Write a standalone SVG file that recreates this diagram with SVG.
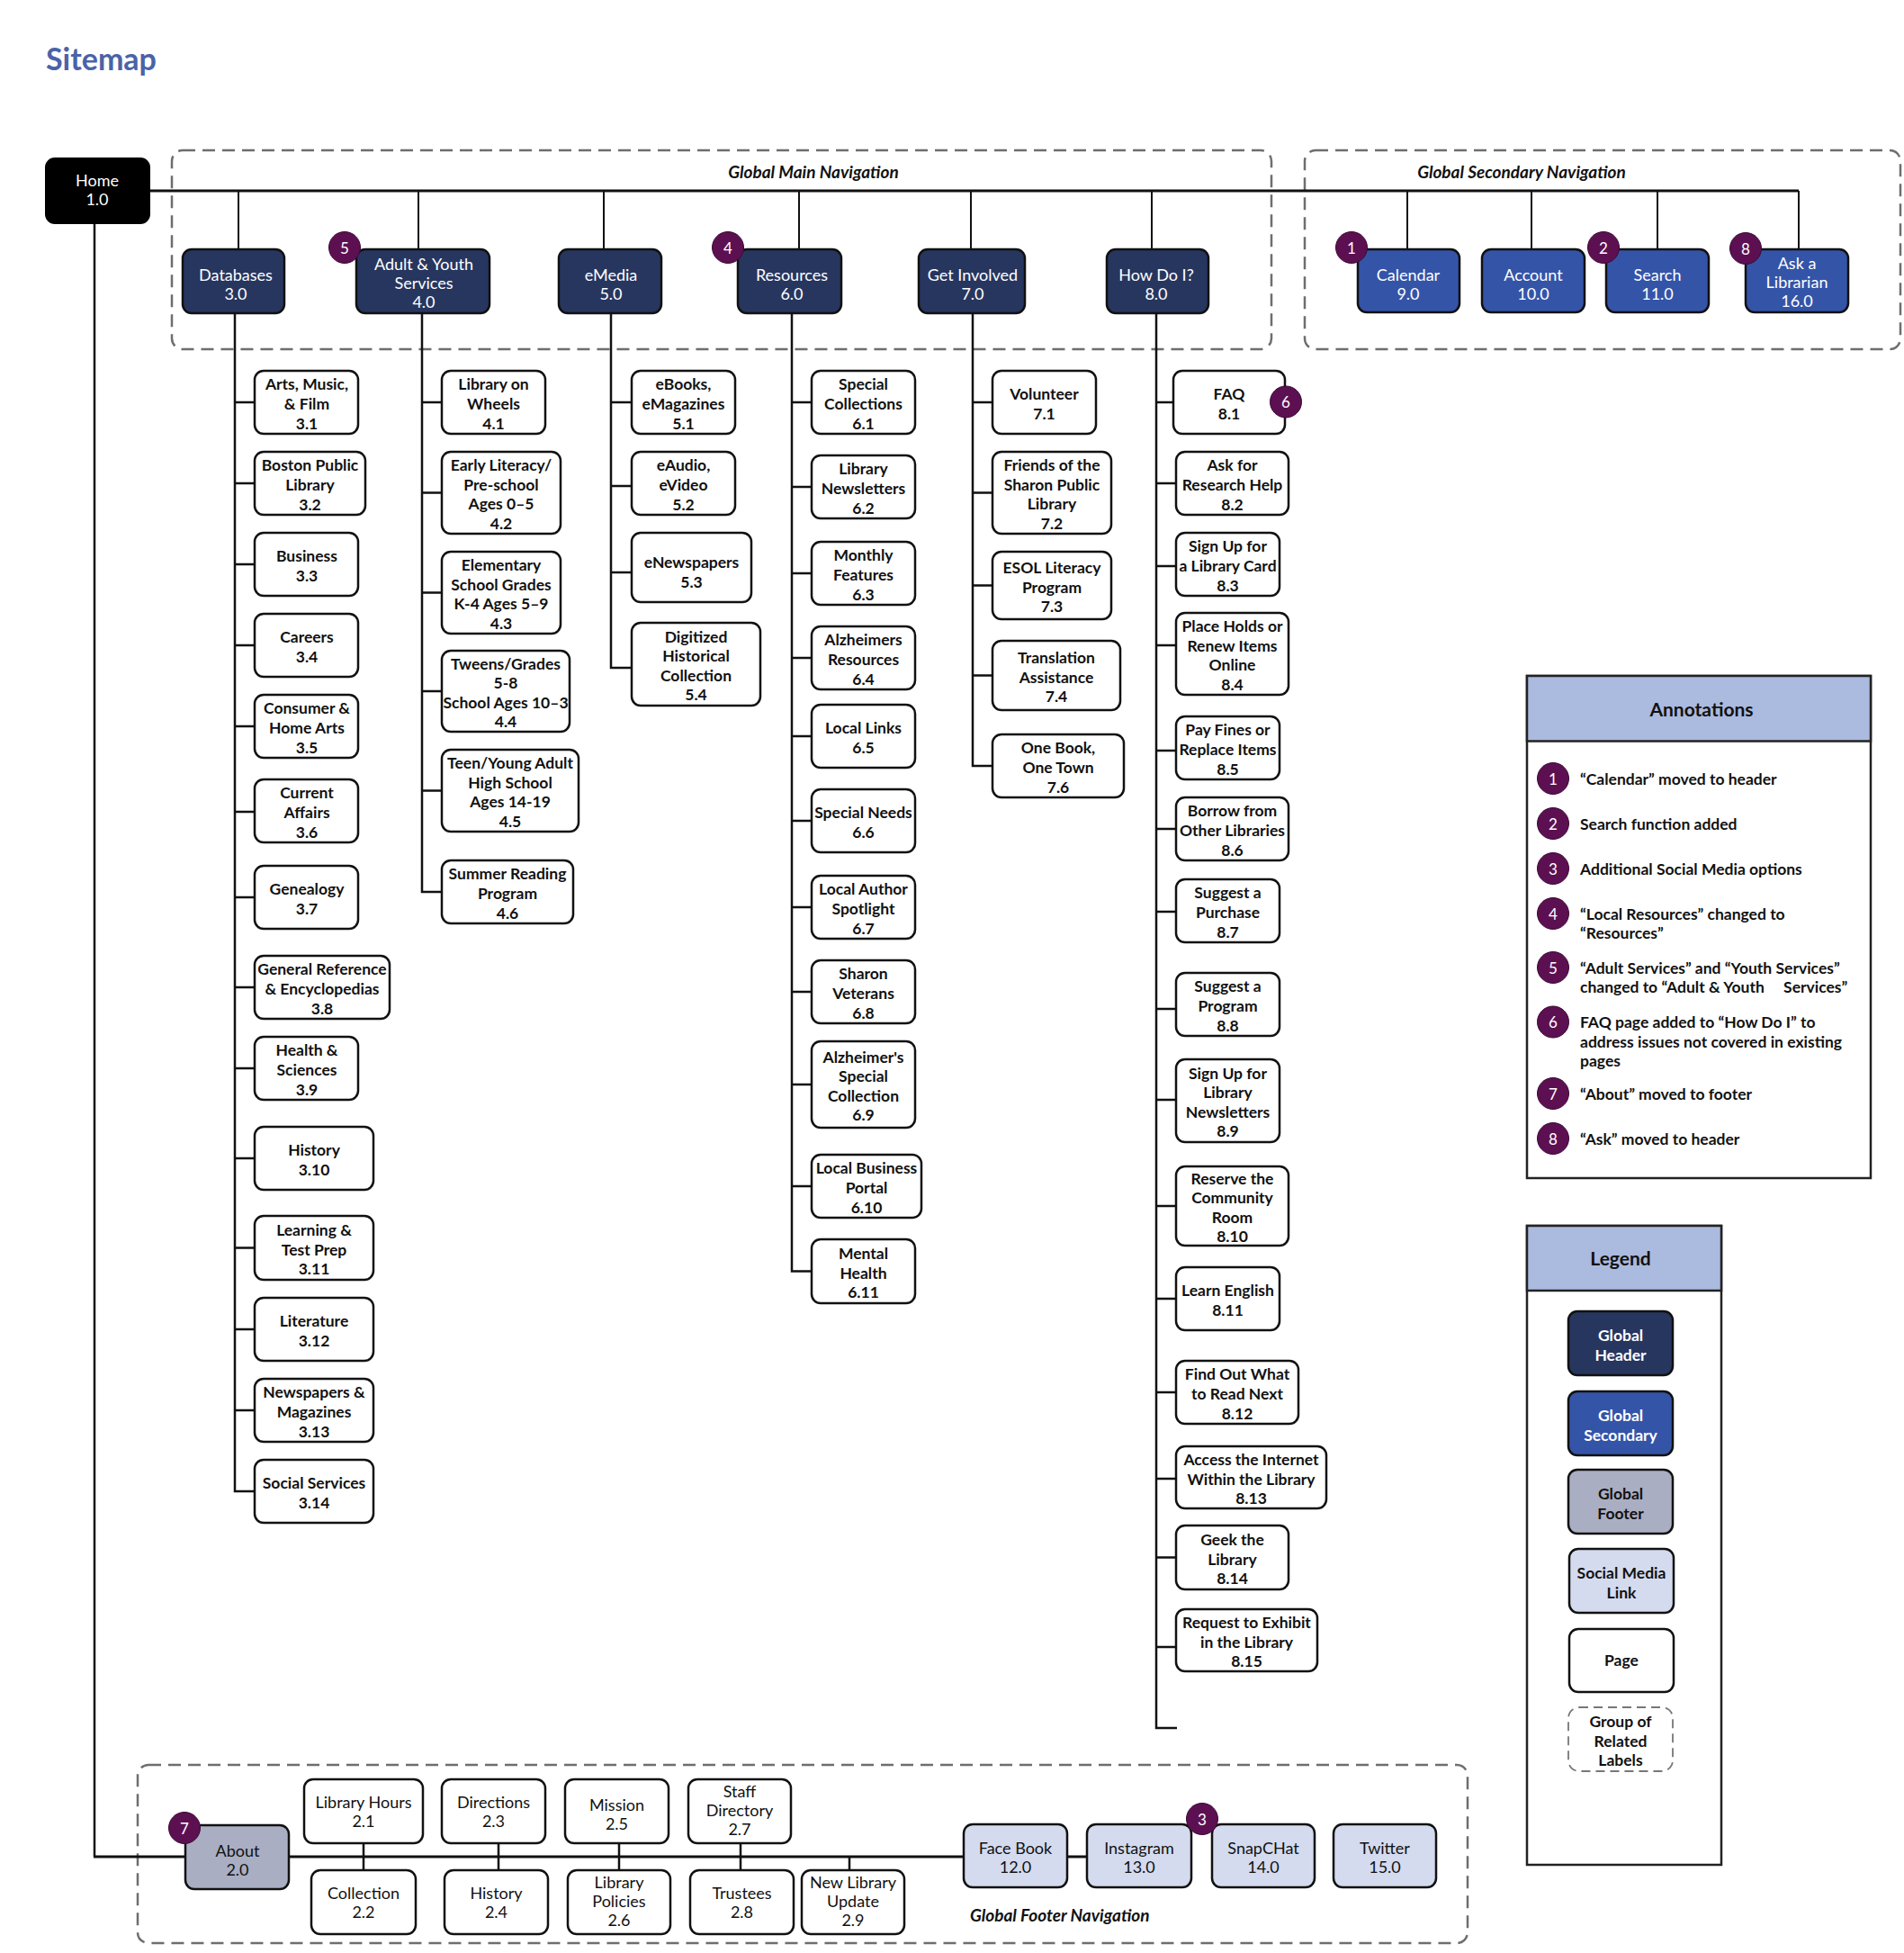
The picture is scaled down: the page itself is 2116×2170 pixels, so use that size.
<svg xmlns="http://www.w3.org/2000/svg" width="2116" height="2170" viewBox="0 0 2116 2170">
<style>
.pg{fill:#fff;stroke:#111;stroke-width:2.5}
.gh{fill:#27365f;stroke:#111;stroke-width:2.5}
.gs{fill:#3454a8;stroke:#111;stroke-width:2.5}
.gf{fill:#a9aec3;stroke:#111;stroke-width:2.5}
.sm{fill:#d4dbef;stroke:#111;stroke-width:2.5}
.grp{fill:none;stroke:#6e6e6e;stroke-width:2.5;stroke-dasharray:14 8}
.lgrp{fill:#fff;stroke:#777;stroke-width:1.8;stroke-dasharray:10 6}
.ln{fill:none;stroke:#111;stroke-width:2.5}
.bus{fill:none;stroke:#111;stroke-width:3}
.dr{fill:none;stroke:#111;stroke-width:2}
.bd{fill:#5d1051;stroke:#3a0a33;stroke-width:1}
.panel{fill:#fff;stroke:#222;stroke-width:2.5}
.ph{fill:#abbadf;stroke:#222;stroke-width:2.5}
text{font-family:Lato,"Open Sans","DejaVu Sans",sans-serif}
.c{font-size:17.5px;font-weight:700;fill:#111;text-anchor:middle}
.w{font-size:18px;font-weight:400;fill:#fff;text-anchor:middle}
.k{font-size:18px;font-weight:400;fill:#111;text-anchor:middle}
.wc{font-size:17.5px;font-weight:700;fill:#fff;text-anchor:middle}
.it{font-size:19px;font-weight:700;font-style:italic;fill:#111}
.an{font-size:17.5px;font-weight:700;fill:#111}
.hh{font-size:21px;font-weight:700;fill:#111;text-anchor:middle}
.bn{font-size:17px;font-weight:400;fill:#fff;text-anchor:middle}
</style>

<text x="51" y="78" style="font-size:34px;font-weight:700;fill:#4a63a8">Sitemap</text>

<g id="groups">
<rect class="grp" x="191" y="167" width="1222" height="221" rx="12"/>
<rect class="grp" x="1450" y="167" width="662" height="221" rx="12"/>
<rect class="grp" x="153" y="1961" width="1478" height="198" rx="12"/>
<text class="it" x="904" y="198" text-anchor="middle">Global Main Navigation</text>
<text class="it" x="1691" y="198" text-anchor="middle">Global Secondary Navigation</text>
<text class="it" x="1078" y="2135">Global Footer Navigation</text>
</g>

<g id="connectors">
<path class="bus" d="M166 212H1999"/>
<path class="dr" d="M265 212V277M465 212V277M671 212V277M888 212V277M1079 212V277M1280 212V277M1564 212V277M1702 212V277M1842 212V277M1999 212V277"/>
<path class="ln" d="M261 348V1657H283M261 447H283M261 537H283M261 627H283M261 717H283M261 807H283M261 902H283M261 997H283M261 1097H283M261 1187H283M261 1287H283M261 1386.5H283M261 1477H283M261 1567H283"/>
<path class="ln" d="M469 348V991H491M469 447H491M469 547.5H491M469 658.5H491M469 768H491M469 878.5H491"/>
<path class="ln" d="M679 348V742H702M679 447H702M679 540H702M679 636H702"/>
<path class="ln" d="M880 348V1412.5H902M880 447H902M880 541H902M880 637H902M880 731H902M880 818H902M880 912H902M880 1008H902M880 1102H902M880 1205H902M880 1318H902"/>
<path class="ln" d="M1081 348V851H1103M1081 447H1103M1081 547.5H1103M1081 650.5H1103M1081 750.5H1103"/>
<path class="ln" d="M1285 348V1920H1308M1285 447H1304M1285 537H1307M1285 629H1307M1285 717H1307M1285 834H1307M1285 921H1307M1285 1013H1307M1285 1121H1307M1285 1222H1307M1285 1340H1307M1285 1443H1307M1285 1547H1307M1285 1643H1307M1285 1730.5H1307M1285 1830H1307"/>
<path class="ln" d="M105 248V2063"/>
<path class="bus" d="M104 2063H1208"/>
<path class="ln" d="M404 2048V2078M554 2048V2078M688 2048V2078M823 2048V2078M944 2063V2078"/>
</g>

<g id="home"><rect x="51" y="176" width="115" height="72" rx="10" fill="#000" stroke="#000" stroke-width="2"/><text class="w"><tspan x="108" y="207">Home</tspan><tspan x="108" y="228">1.0</tspan></text></g>

<g id="n3"><rect class="gh" x="203" y="277" width="113" height="71" rx="10"/><text class="w"><tspan x="262" y="311.5">Databases</tspan><tspan x="262" y="332.5">3.0</tspan></text></g>
<g id="n4"><rect class="gh" x="396" y="277" width="148" height="71" rx="10"/><text class="w"><tspan x="471" y="300">Adult &amp; Youth</tspan><tspan x="471" y="321">Services</tspan><tspan x="471" y="342">4.0</tspan></text></g>
<g id="n5"><rect class="gh" x="621" y="277" width="114" height="71" rx="10"/><text class="w"><tspan x="679" y="311.5">eMedia</tspan><tspan x="679" y="332.5">5.0</tspan></text></g>
<g id="n6"><rect class="gh" x="820" y="277" width="115" height="71" rx="10"/><text class="w"><tspan x="880" y="311.5">Resources</tspan><tspan x="880" y="332.5">6.0</tspan></text></g>
<g id="n7"><rect class="gh" x="1021" y="277" width="118" height="71" rx="10"/><text class="w"><tspan x="1081" y="311.5">Get Involved</tspan><tspan x="1081" y="332.5">7.0</tspan></text></g>
<g id="n8"><rect class="gh" x="1230" y="277" width="113" height="71" rx="10"/><text class="w"><tspan x="1285" y="311.5">How Do I?</tspan><tspan x="1285" y="332.5">8.0</tspan></text></g>
<g id="n9"><rect class="gs" x="1509" y="277" width="113" height="70" rx="10"/><text class="w"><tspan x="1565" y="311.5">Calendar</tspan><tspan x="1565" y="332.5">9.0</tspan></text></g>
<g id="n10"><rect class="gs" x="1647" y="277" width="114" height="70" rx="10"/><text class="w"><tspan x="1704" y="311.5">Account</tspan><tspan x="1704" y="332.5">10.0</tspan></text></g>
<g id="n11"><rect class="gs" x="1785" y="277" width="114" height="70" rx="10"/><text class="w"><tspan x="1842" y="311.5">Search</tspan><tspan x="1842" y="332.5">11.0</tspan></text></g>
<g id="n16"><rect class="gs" x="1940" y="277" width="114" height="70" rx="10"/><text class="w"><tspan x="1997" y="299">Ask a</tspan><tspan x="1997" y="320">Librarian</tspan><tspan x="1997" y="341">16.0</tspan></text></g>

<g id="n3-1"><rect class="pg" x="283" y="412" width="115" height="70" rx="10"/><text class="c"><tspan x="341" y="433.4">Arts, Music,</tspan><tspan x="341" y="455">&amp; Film</tspan><tspan x="341" y="476.6">3.1</tspan></text></g>
<g id="n3-2"><rect class="pg" x="283" y="502" width="123" height="70" rx="10"/><text class="c"><tspan x="344.5" y="523.4">Boston Public</tspan><tspan x="344.5" y="545">Library</tspan><tspan x="344.5" y="566.6">3.2</tspan></text></g>
<g id="n3-3"><rect class="pg" x="283" y="592" width="115" height="70" rx="10"/><text class="c"><tspan x="341" y="624.2">Business</tspan><tspan x="341" y="645.8">3.3</tspan></text></g>
<g id="n3-4"><rect class="pg" x="283" y="682" width="115" height="70" rx="10"/><text class="c"><tspan x="341" y="714.2">Careers</tspan><tspan x="341" y="735.8">3.4</tspan></text></g>
<g id="n3-5"><rect class="pg" x="283" y="772" width="115" height="70" rx="10"/><text class="c"><tspan x="341" y="793.4">Consumer &amp;</tspan><tspan x="341" y="815">Home Arts</tspan><tspan x="341" y="836.6">3.5</tspan></text></g>
<g id="n3-6"><rect class="pg" x="283" y="866" width="115" height="70" rx="10"/><text class="c"><tspan x="341" y="887.4">Current</tspan><tspan x="341" y="909">Affairs</tspan><tspan x="341" y="930.6">3.6</tspan></text></g>
<g id="n3-7"><rect class="pg" x="283" y="962" width="115" height="70" rx="10"/><text class="c"><tspan x="341" y="994.2">Genealogy</tspan><tspan x="341" y="1015.8">3.7</tspan></text></g>
<g id="n3-8"><rect class="pg" x="283" y="1062" width="150" height="70" rx="10"/><text class="c"><tspan x="358" y="1083.4">General Reference</tspan><tspan x="358" y="1105">&amp; Encyclopedias</tspan><tspan x="358" y="1126.6">3.8</tspan></text></g>
<g id="n3-9"><rect class="pg" x="283" y="1152" width="115" height="70" rx="10"/><text class="c"><tspan x="341" y="1173.4">Health &amp;</tspan><tspan x="341" y="1195">Sciences</tspan><tspan x="341" y="1216.6">3.9</tspan></text></g>
<g id="n3-10"><rect class="pg" x="283" y="1252" width="132" height="70" rx="10"/><text class="c"><tspan x="349" y="1284.2">History</tspan><tspan x="349" y="1305.8">3.10</tspan></text></g>
<g id="n3-11"><rect class="pg" x="283" y="1351" width="132" height="71" rx="10"/><text class="c"><tspan x="349" y="1372.9">Learning &amp;</tspan><tspan x="349" y="1394.5">Test Prep</tspan><tspan x="349" y="1416.1">3.11</tspan></text></g>
<g id="n3-12"><rect class="pg" x="283" y="1442" width="132" height="70" rx="10"/><text class="c"><tspan x="349" y="1474.2">Literature</tspan><tspan x="349" y="1495.8">3.12</tspan></text></g>
<g id="n3-13"><rect class="pg" x="283" y="1532" width="132" height="70" rx="10"/><text class="c"><tspan x="349" y="1553.4">Newspapers &amp;</tspan><tspan x="349" y="1575">Magazines</tspan><tspan x="349" y="1596.6">3.13</tspan></text></g>
<g id="n3-14"><rect class="pg" x="283" y="1622" width="132" height="70" rx="10"/><text class="c"><tspan x="349" y="1654.2">Social Services</tspan><tspan x="349" y="1675.8">3.14</tspan></text></g>

<g id="n4-1"><rect class="pg" x="491" y="412" width="115" height="70" rx="10"/><text class="c"><tspan x="548.5" y="433.4">Library on</tspan><tspan x="548.5" y="455">Wheels</tspan><tspan x="548.5" y="476.6">4.1</tspan></text></g>
<g id="n4-2"><rect class="pg" x="491" y="502" width="132" height="91" rx="10"/><text class="c"><tspan x="557" y="523.1">Early Literacy/</tspan><tspan x="557" y="544.7">Pre-school</tspan><tspan x="557" y="566.3">Ages 0–5</tspan><tspan x="557" y="587.9">4.2</tspan></text></g>
<g id="n4-3"><rect class="pg" x="491" y="613" width="132" height="91" rx="10"/><text class="c"><tspan x="557" y="634.1">Elementary</tspan><tspan x="557" y="655.7">School Grades</tspan><tspan x="557" y="677.3">K-4 Ages 5–9</tspan><tspan x="557" y="698.9">4.3</tspan></text></g>
<g id="n4-4"><rect class="pg" x="491" y="723" width="142" height="90" rx="10"/><text class="c"><tspan x="562" y="743.6">Tweens/Grades</tspan><tspan x="562" y="765.2">5-8</tspan><tspan x="562" y="786.8">School Ages 10–3</tspan><tspan x="562" y="808.4">4.4</tspan></text></g>
<g id="n4-5"><rect class="pg" x="491" y="833" width="152" height="91" rx="10"/><text class="c"><tspan x="567" y="854.1">Teen/Young Adult</tspan><tspan x="567" y="875.7">High School</tspan><tspan x="567" y="897.3">Ages 14-19</tspan><tspan x="567" y="918.9">4.5</tspan></text></g>
<g id="n4-6"><rect class="pg" x="491" y="956" width="146" height="70" rx="10"/><text class="c"><tspan x="564" y="977.4">Summer Reading</tspan><tspan x="564" y="999">Program</tspan><tspan x="564" y="1020.6">4.6</tspan></text></g>

<g id="n5-1"><rect class="pg" x="702" y="412" width="115" height="70" rx="10"/><text class="c"><tspan x="759.5" y="433.4">eBooks,</tspan><tspan x="759.5" y="455">eMagazines</tspan><tspan x="759.5" y="476.6">5.1</tspan></text></g>
<g id="n5-2"><rect class="pg" x="702" y="502" width="115" height="70" rx="10"/><text class="c"><tspan x="759.5" y="523.4">eAudio,</tspan><tspan x="759.5" y="545">eVideo</tspan><tspan x="759.5" y="566.6">5.2</tspan></text></g>
<g id="n5-3"><rect class="pg" x="702" y="592" width="133" height="77" rx="10"/><text class="c"><tspan x="768.5" y="631.2">eNewspapers</tspan><tspan x="768.5" y="652.8">5.3</tspan></text></g>
<g id="n5-4"><rect class="pg" x="702" y="692" width="143" height="92" rx="10"/><text class="c"><tspan x="773.5" y="713.6">Digitized</tspan><tspan x="773.5" y="735.2">Historical</tspan><tspan x="773.5" y="756.8">Collection</tspan><tspan x="773.5" y="778.4">5.4</tspan></text></g>

<g id="n6-1"><rect class="pg" x="902" y="412" width="115" height="70" rx="10"/><text class="c"><tspan x="959.5" y="433.4">Special</tspan><tspan x="959.5" y="455">Collections</tspan><tspan x="959.5" y="476.6">6.1</tspan></text></g>
<g id="n6-2"><rect class="pg" x="902" y="506" width="115" height="70" rx="10"/><text class="c"><tspan x="959.5" y="527.4">Library</tspan><tspan x="959.5" y="549">Newsletters</tspan><tspan x="959.5" y="570.6">6.2</tspan></text></g>
<g id="n6-3"><rect class="pg" x="902" y="602" width="115" height="70" rx="10"/><text class="c"><tspan x="959.5" y="623.4">Monthly</tspan><tspan x="959.5" y="645">Features</tspan><tspan x="959.5" y="666.6">6.3</tspan></text></g>
<g id="n6-4"><rect class="pg" x="902" y="696" width="115" height="70" rx="10"/><text class="c"><tspan x="959.5" y="717.4">Alzheimers</tspan><tspan x="959.5" y="739">Resources</tspan><tspan x="959.5" y="760.6">6.4</tspan></text></g>
<g id="n6-5"><rect class="pg" x="902" y="783" width="115" height="70" rx="10"/><text class="c"><tspan x="959.5" y="815.2">Local Links</tspan><tspan x="959.5" y="836.8">6.5</tspan></text></g>
<g id="n6-6"><rect class="pg" x="902" y="877" width="115" height="70" rx="10"/><text class="c"><tspan x="959.5" y="909.2">Special Needs</tspan><tspan x="959.5" y="930.8">6.6</tspan></text></g>
<g id="n6-7"><rect class="pg" x="902" y="973" width="115" height="70" rx="10"/><text class="c"><tspan x="959.5" y="994.4">Local Author</tspan><tspan x="959.5" y="1016">Spotlight</tspan><tspan x="959.5" y="1037.6">6.7</tspan></text></g>
<g id="n6-8"><rect class="pg" x="902" y="1067" width="115" height="70" rx="10"/><text class="c"><tspan x="959.5" y="1088.4">Sharon</tspan><tspan x="959.5" y="1110">Veterans</tspan><tspan x="959.5" y="1131.6">6.8</tspan></text></g>
<g id="n6-9"><rect class="pg" x="902" y="1157" width="115" height="96" rx="10"/><text class="c"><tspan x="959.5" y="1180.6">Alzheimer's</tspan><tspan x="959.5" y="1202.2">Special</tspan><tspan x="959.5" y="1223.8">Collection</tspan><tspan x="959.5" y="1245.4">6.9</tspan></text></g>
<g id="n6-10"><rect class="pg" x="902" y="1283" width="122" height="70" rx="10"/><text class="c"><tspan x="963" y="1304.4">Local Business</tspan><tspan x="963" y="1326">Portal</tspan><tspan x="963" y="1347.6">6.10</tspan></text></g>
<g id="n6-11"><rect class="pg" x="902" y="1377" width="115" height="71" rx="10"/><text class="c"><tspan x="959.5" y="1398.9">Mental</tspan><tspan x="959.5" y="1420.5">Health</tspan><tspan x="959.5" y="1442.1">6.11</tspan></text></g>

<g id="n7-1"><rect class="pg" x="1103" y="412" width="115" height="70" rx="10"/><text class="c"><tspan x="1160.5" y="444.2">Volunteer</tspan><tspan x="1160.5" y="465.8">7.1</tspan></text></g>
<g id="n7-2"><rect class="pg" x="1103" y="502" width="132" height="91" rx="10"/><text class="c"><tspan x="1169" y="523.1">Friends of the</tspan><tspan x="1169" y="544.7">Sharon Public</tspan><tspan x="1169" y="566.3">Library</tspan><tspan x="1169" y="587.9">7.2</tspan></text></g>
<g id="n7-3"><rect class="pg" x="1103" y="613" width="132" height="75" rx="10"/><text class="c"><tspan x="1169" y="636.9">ESOL Literacy</tspan><tspan x="1169" y="658.5">Program</tspan><tspan x="1169" y="680.1">7.3</tspan></text></g>
<g id="n7-4"><rect class="pg" x="1103" y="712" width="142" height="77" rx="10"/><text class="c"><tspan x="1174" y="736.9">Translation</tspan><tspan x="1174" y="758.5">Assistance</tspan><tspan x="1174" y="780.1">7.4</tspan></text></g>
<g id="n7-6"><rect class="pg" x="1103" y="816" width="146" height="70" rx="10"/><text class="c"><tspan x="1176" y="837.4">One Book,</tspan><tspan x="1176" y="859">One Town</tspan><tspan x="1176" y="880.6">7.6</tspan></text></g>

<g id="n8-1"><rect class="pg" x="1304" y="412" width="124" height="70" rx="10"/><text class="c"><tspan x="1366" y="444.2">FAQ</tspan><tspan x="1366" y="465.8">8.1</tspan></text></g>
<g id="n8-2"><rect class="pg" x="1307" y="502" width="125" height="70" rx="10"/><text class="c"><tspan x="1369.5" y="523.4">Ask for</tspan><tspan x="1369.5" y="545">Research Help</tspan><tspan x="1369.5" y="566.6">8.2</tspan></text></g>
<g id="n8-3"><rect class="pg" x="1307" y="592" width="115" height="70" rx="10"/><text class="c"><tspan x="1364.5" y="613.4">Sign Up for</tspan><tspan x="1364.5" y="635">a Library Card</tspan><tspan x="1364.5" y="656.6">8.3</tspan></text></g>
<g id="n8-4"><rect class="pg" x="1307" y="681" width="125" height="91" rx="10"/><text class="c"><tspan x="1369.5" y="702.1">Place Holds or</tspan><tspan x="1369.5" y="723.7">Renew Items</tspan><tspan x="1369.5" y="745.3">Online</tspan><tspan x="1369.5" y="766.9">8.4</tspan></text></g>
<g id="n8-5"><rect class="pg" x="1307" y="796" width="115" height="70" rx="10"/><text class="c"><tspan x="1364.5" y="817.4">Pay Fines or</tspan><tspan x="1364.5" y="839">Replace Items</tspan><tspan x="1364.5" y="860.6">8.5</tspan></text></g>
<g id="n8-6"><rect class="pg" x="1307" y="886" width="125" height="70" rx="10"/><text class="c"><tspan x="1369.5" y="907.4">Borrow from</tspan><tspan x="1369.5" y="929">Other Libraries</tspan><tspan x="1369.5" y="950.6">8.6</tspan></text></g>
<g id="n8-7"><rect class="pg" x="1307" y="977" width="115" height="70" rx="10"/><text class="c"><tspan x="1364.5" y="998.4">Suggest a</tspan><tspan x="1364.5" y="1020">Purchase</tspan><tspan x="1364.5" y="1041.6">8.7</tspan></text></g>
<g id="n8-8"><rect class="pg" x="1307" y="1081" width="115" height="70" rx="10"/><text class="c"><tspan x="1364.5" y="1102.4">Suggest a</tspan><tspan x="1364.5" y="1124">Program</tspan><tspan x="1364.5" y="1145.6">8.8</tspan></text></g>
<g id="n8-9"><rect class="pg" x="1307" y="1177" width="115" height="92" rx="10"/><text class="c"><tspan x="1364.5" y="1198.6">Sign Up for</tspan><tspan x="1364.5" y="1220.2">Library</tspan><tspan x="1364.5" y="1241.8">Newsletters</tspan><tspan x="1364.5" y="1263.4">8.9</tspan></text></g>
<g id="n8-10"><rect class="pg" x="1307" y="1296" width="125" height="88" rx="10"/><text class="c"><tspan x="1369.5" y="1315.6">Reserve the</tspan><tspan x="1369.5" y="1337.2">Community</tspan><tspan x="1369.5" y="1358.8">Room</tspan><tspan x="1369.5" y="1380.4">8.10</tspan></text></g>
<g id="n8-11"><rect class="pg" x="1307" y="1408" width="115" height="70" rx="10"/><text class="c"><tspan x="1364.5" y="1440.2">Learn English</tspan><tspan x="1364.5" y="1461.8">8.11</tspan></text></g>
<g id="n8-12"><rect class="pg" x="1307" y="1512" width="136" height="70" rx="10"/><text class="c"><tspan x="1375" y="1533.4">Find Out What</tspan><tspan x="1375" y="1555">to Read Next</tspan><tspan x="1375" y="1576.6">8.12</tspan></text></g>
<g id="n8-13"><rect class="pg" x="1307" y="1607" width="167" height="69" rx="10"/><text class="c"><tspan x="1390.5" y="1627.9">Access the Internet</tspan><tspan x="1390.5" y="1649.5">Within the Library</tspan><tspan x="1390.5" y="1671.1">8.13</tspan></text></g>
<g id="n8-14"><rect class="pg" x="1307" y="1695" width="125" height="71" rx="10"/><text class="c"><tspan x="1369.5" y="1716.9">Geek the</tspan><tspan x="1369.5" y="1738.5">Library</tspan><tspan x="1369.5" y="1760.1">8.14</tspan></text></g>
<g id="n8-15"><rect class="pg" x="1307" y="1788" width="157" height="69" rx="10"/><text class="c"><tspan x="1385.5" y="1808.9">Request to Exhibit</tspan><tspan x="1385.5" y="1830.5">in the Library</tspan><tspan x="1385.5" y="1852.1">8.15</tspan></text></g>

<g id="n2"><rect class="gf" x="206" y="2028" width="115" height="71" rx="10"/><text class="k"><tspan x="264" y="2063">About</tspan><tspan x="264" y="2084">2.0</tspan></text></g>
<g id="n2-1"><rect class="pg" x="338" y="1977" width="132" height="71" rx="10"/><text class="k"><tspan x="404" y="2009">Library Hours</tspan><tspan x="404" y="2030">2.1</tspan></text></g>
<g id="n2-3"><rect class="pg" x="491" y="1977" width="115" height="71" rx="10"/><text class="k"><tspan x="548.5" y="2009">Directions</tspan><tspan x="548.5" y="2030">2.3</tspan></text></g>
<g id="n2-5"><rect class="pg" x="628" y="1977" width="115" height="71" rx="10"/><text class="k"><tspan x="685.5" y="2012">Mission</tspan><tspan x="685.5" y="2033">2.5</tspan></text></g>
<g id="n2-7"><rect class="pg" x="765" y="1977" width="114" height="71" rx="10"/><text class="k"><tspan x="822" y="1997">Staff</tspan><tspan x="822" y="2018">Directory</tspan><tspan x="822" y="2039">2.7</tspan></text></g>
<g id="n2-2"><rect class="pg" x="346" y="2078" width="116" height="71" rx="10"/><text class="k"><tspan x="404" y="2110">Collection</tspan><tspan x="404" y="2131">2.2</tspan></text></g>
<g id="n2-4"><rect class="pg" x="494" y="2078" width="115" height="71" rx="10"/><text class="k"><tspan x="551.5" y="2110">History</tspan><tspan x="551.5" y="2131">2.4</tspan></text></g>
<g id="n2-6"><rect class="pg" x="631" y="2078" width="114" height="71" rx="10"/><text class="k"><tspan x="688" y="2097.5">Library</tspan><tspan x="688" y="2118.5">Policies</tspan><tspan x="688" y="2139.5">2.6</tspan></text></g>
<g id="n2-8"><rect class="pg" x="767" y="2078" width="115" height="71" rx="10"/><text class="k"><tspan x="824.5" y="2110">Trustees</tspan><tspan x="824.5" y="2131">2.8</tspan></text></g>
<g id="n2-9"><rect class="pg" x="891" y="2078" width="114" height="71" rx="10"/><text class="k"><tspan x="948" y="2097.5">New Library</tspan><tspan x="948" y="2118.5">Update</tspan><tspan x="948" y="2139.5">2.9</tspan></text></g>
<g id="n12"><rect class="sm" x="1071" y="2027" width="115" height="70" rx="10"/><text class="k"><tspan x="1128.5" y="2060">Face Book</tspan><tspan x="1128.5" y="2081">12.0</tspan></text></g>
<g id="n13"><rect class="sm" x="1208" y="2027" width="116" height="70" rx="10"/><text class="k"><tspan x="1266" y="2060">Instagram</tspan><tspan x="1266" y="2081">13.0</tspan></text></g>
<g id="n14"><rect class="sm" x="1347" y="2027" width="114" height="70" rx="10"/><text class="k"><tspan x="1404" y="2060">SnapCHat</tspan><tspan x="1404" y="2081">14.0</tspan></text></g>
<g id="n15"><rect class="sm" x="1482" y="2027" width="114" height="70" rx="10"/><text class="k"><tspan x="1539" y="2060">Twitter</tspan><tspan x="1539" y="2081">15.0</tspan></text></g>

<g id="badges">
<circle class="bd" cx="383" cy="275" r="17.5"/><text class="bn" x="383" y="281.5">5</text>
<circle class="bd" cx="809" cy="275" r="17.5"/><text class="bn" x="809" y="281.5">4</text>
<circle class="bd" cx="1502" cy="275" r="17.5"/><text class="bn" x="1502" y="281.5">1</text>
<circle class="bd" cx="1782" cy="275" r="17.5"/><text class="bn" x="1782" y="281.5">2</text>
<circle class="bd" cx="1940" cy="276" r="17.5"/><text class="bn" x="1940" y="282.5">8</text>
<circle class="bd" cx="1429" cy="446.5" r="17.5"/><text class="bn" x="1429" y="453">6</text>
<circle class="bd" cx="205" cy="2031" r="17.5"/><text class="bn" x="205" y="2037.5">7</text>
<circle class="bd" cx="1336" cy="2021" r="17.5"/><text class="bn" x="1336" y="2027.5">3</text>
</g>

<g id="annotations">
<rect class="panel" x="1697" y="751" width="382" height="558"/>
<rect class="ph" x="1697" y="751" width="382" height="72.5"/>
<text class="hh" x="1891" y="796">Annotations</text>
<circle class="bd" cx="1726" cy="865" r="17.5"/><text class="bn" x="1726" y="871.5">1</text>
<text class="an" x="1756" y="871.5">“Calendar” moved to header</text>
<circle class="bd" cx="1726" cy="915" r="17.5"/><text class="bn" x="1726" y="921.5">2</text>
<text class="an" x="1756" y="921.5">Search function added</text>
<circle class="bd" cx="1726" cy="965" r="17.5"/><text class="bn" x="1726" y="971.5">3</text>
<text class="an" x="1756" y="971.5">Additional Social Media options</text>
<circle class="bd" cx="1726" cy="1015" r="17.5"/><text class="bn" x="1726" y="1021.5">4</text>
<text class="an"><tspan x="1756" y="1021.5">“Local Resources” changed to</tspan><tspan x="1756" y="1043">“Resources”</tspan></text>
<circle class="bd" cx="1726" cy="1075" r="17.5"/><text class="bn" x="1726" y="1081.5">5</text>
<text class="an" xml:space="preserve"><tspan x="1756" y="1081.5">“Adult Services” and “Youth Services”</tspan><tspan x="1756" y="1103">changed to “Adult &amp; Youth     Services”</tspan></text>
<circle class="bd" cx="1726" cy="1135.5" r="17.5"/><text class="bn" x="1726" y="1142">6</text>
<text class="an"><tspan x="1756" y="1142">FAQ page added to “How Do I” to</tspan><tspan x="1756" y="1163.5">address issues not covered in existing</tspan><tspan x="1756" y="1185">pages</tspan></text>
<circle class="bd" cx="1726" cy="1215" r="17.5"/><text class="bn" x="1726" y="1221.5">7</text>
<text class="an" x="1756" y="1221.5">“About” moved to footer</text>
<circle class="bd" cx="1726" cy="1265" r="17.5"/><text class="bn" x="1726" y="1271.5">8</text>
<text class="an" x="1756" y="1271.5">“Ask” moved to header</text>
</g>

<g id="legend">
<rect class="panel" x="1697" y="1362" width="216" height="710"/>
<rect class="ph" x="1697" y="1362" width="216" height="72"/>
<text class="hh" x="1801" y="1406">Legend</text>
<rect class="gh" x="1743" y="1457" width="116" height="71" rx="10"/>
<text class="wc"><tspan x="1801" y="1490">Global</tspan><tspan x="1801" y="1511.6">Header</tspan></text>
<rect class="gs" x="1743" y="1546" width="116" height="71" rx="10"/>
<text class="wc"><tspan x="1801" y="1579">Global</tspan><tspan x="1801" y="1600.6">Secondary</tspan></text>
<rect class="gf" x="1743" y="1633" width="116" height="71" rx="10"/>
<text class="c"><tspan x="1801" y="1666">Global</tspan><tspan x="1801" y="1687.6">Footer</tspan></text>
<rect class="sm" x="1744" y="1721" width="116" height="71" rx="10"/>
<text class="c"><tspan x="1802" y="1754">Social Media</tspan><tspan x="1802" y="1775.6">Link</tspan></text>
<rect class="pg" x="1744" y="1810" width="116" height="70" rx="10"/>
<text class="c" x="1802" y="1851">Page</text>
<rect class="lgrp" x="1743" y="1897" width="116" height="71" rx="12"/>
<text class="c"><tspan x="1801" y="1919">Group of</tspan><tspan x="1801" y="1940.6">Related</tspan><tspan x="1801" y="1962.2">Labels</tspan></text>
</g>
</svg>
